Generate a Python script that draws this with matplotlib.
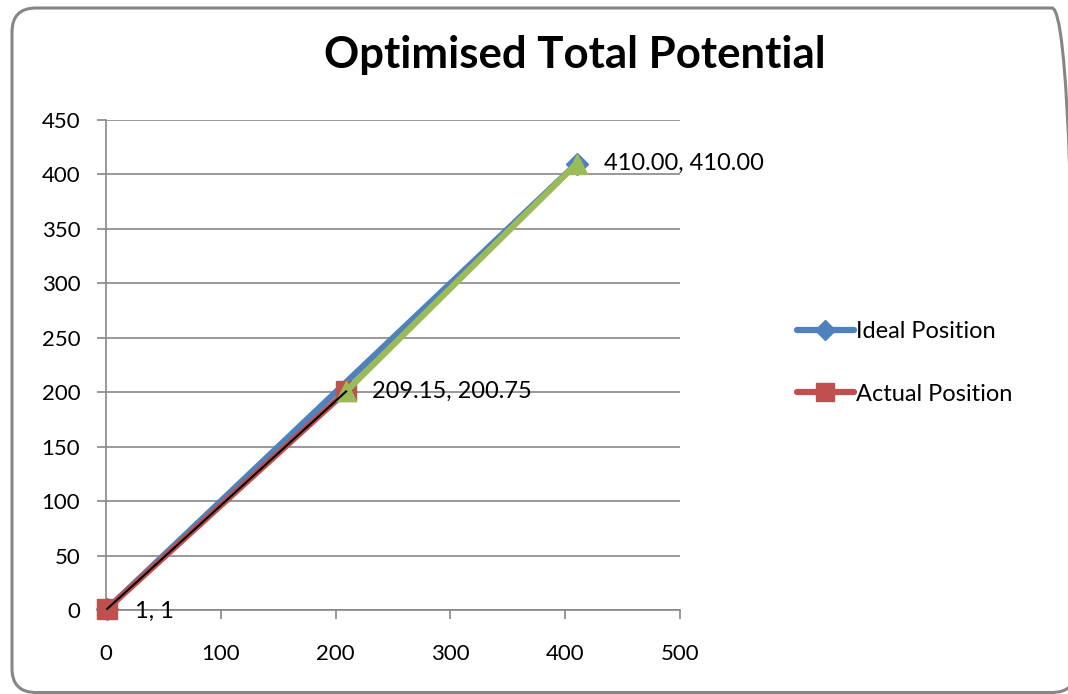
import matplotlib
matplotlib.use("Agg")
import matplotlib.pyplot as plt
from matplotlib.patches import FancyBboxPatch
from matplotlib.transforms import IdentityTransform

plt.rcParams['font.family'] = ['Lato', 'DejaVu Sans']

# Series data
ideal_x = [1, 410.00]
ideal_y = [1, 410.00]
actual_x = [1, 209.15]
actual_y = [1, 200.75]
path_x = [209.15, 410.00]
path_y = [200.75, 410.00]
point_labels = ["1, 1", "209.15, 200.75", "410.00, 410.00"]
label_x = [1, 209.15, 410.00]
label_y = [1, 200.75, 410.00]

x_ticks = [0, 100, 200, 300, 400, 500]
y_ticks = [0, 50, 100, 150, 200, 250, 300, 350, 400, 450]

blue = '#4F81BD'
red = '#C0504D'
green = '#9BBB59'
grid = '#878787'

W, H = 1068, 694
fig = plt.figure(figsize=(W / 100, H / 100), dpi=100)
ax = fig.add_axes([106 / W, 1 - 610 / H, 574 / W, 490 / H])

ax.plot(ideal_x, ideal_y, color=blue, lw=4.5, marker='D', ms=11,
        label='Ideal Position', zorder=3, solid_capstyle='round', clip_on=False)
ax.plot(actual_x, actual_y, color=red, lw=4.5, marker='s', ms=15,
        label='Actual Position', zorder=4, solid_capstyle='round', clip_on=False)
ax.plot(path_x, path_y, color=green, lw=4.5, marker='^', ms=15,
        zorder=5, solid_capstyle='round', clip_on=False)
ax.plot(actual_x, actual_y, color='black', lw=1.5, zorder=6, clip_on=False)

offsets = [(20, -2), (19, 0), (19.5, 0)]
for t, x, y, (dx, dy) in zip(point_labels, label_x, label_y, offsets):
    ax.annotate(t, (x, y), xytext=(dx, dy), textcoords='offset points',
                fontsize=17, va='center', ha='left', zorder=7)

ax.set_xlim(0, 500)
ax.set_ylim(0, 450)
ax.set_xticks(x_ticks)
ax.set_yticks(y_ticks)
ax.tick_params(axis='both', labelsize=16, color=grid, length=6.5, width=1.2,
               direction='out')
ax.tick_params(axis='y', pad=12)
ax.tick_params(axis='x', pad=18)
ax.yaxis.grid(True, color=grid, lw=1.2)
ax.set_axisbelow(True)
for s in ['top', 'right']:
    ax.spines[s].set_visible(False)
for s in ['left', 'bottom']:
    ax.spines[s].set_color(grid)
    ax.spines[s].set_linewidth(1.2)

fig.text(575 / W, 1 - 55 / H, 'Optimised Total Potential', ha='center', va='center',
         fontsize=31.5, fontweight='bold')

leg = fig.legend(loc='center left', bbox_to_anchor=(797 / W, 1 - 363 / H), frameon=False,
                 fontsize=17, labelspacing=1.75, handlelength=2.4, handletextpad=0.1,
                 markerscale=0.9, borderaxespad=0, borderpad=0)

# Rounded chart-area outline, in pixel units
border = FancyBboxPatch((12, 1.5), 1064, 684.5,
                        boxstyle='round,pad=0,rounding_size=24',
                        transform=IdentityTransform(), fill=False,
                        edgecolor='#868686', lw=2.2)
fig.patches.append(border)

fig.savefig('out.png', dpi=100)
